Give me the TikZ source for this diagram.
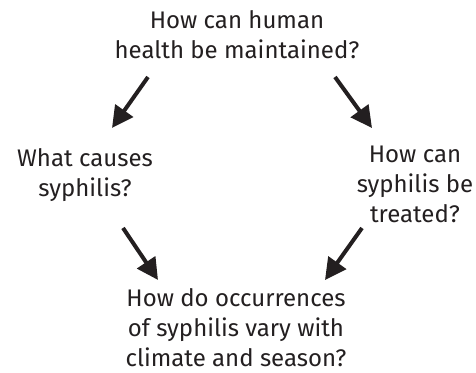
\documentclass[tikz,border=0pt]{standalone}
\usepackage{fontspec}
\setmainfont{Fira Sans}
\usetikzlibrary{arrows.meta}
\begin{document}
\begin{tikzpicture}[x=0.75pt,y=0.75pt]
\definecolor{color0}{HTML}{231F20}
\tikzset{question/.style={align=center,text=color0,font=\fontsize{18}{22.5}\selectfont,inner sep=0pt},
  bigarrow/.style={color0,line width=3pt,-{Triangle[length=16pt,width=16pt]}}}
\useasboundingbox (0,0) rectangle (476,373);
\node[question] (health) at (237,338) {How can human\\health be maintained?};
\node[question] (causes) at (85,198) {What causes\\syphilis?};
\node[question] (treated) at (415,189) {How can\\syphilis be\\treated?};
\node[question] (season) at (236,45) {How do occurrences\\of syphilis vary with\\climate and season?};
\coordinate (a1) at (148,296);
\coordinate (a2) at (112,245);
\coordinate (b1) at (335,296);
\coordinate (b2) at (372,245);
\coordinate (c1) at (123,145);
\coordinate (c2) at (158,93);
\coordinate (d1) at (362,145);
\coordinate (d2) at (325,93);
\draw[bigarrow] (a1) -- (a2);
\draw[bigarrow] (b1) -- (b2);
\draw[bigarrow] (c1) -- (c2);
\draw[bigarrow] (d1) -- (d2);
\end{tikzpicture}
\end{document}
